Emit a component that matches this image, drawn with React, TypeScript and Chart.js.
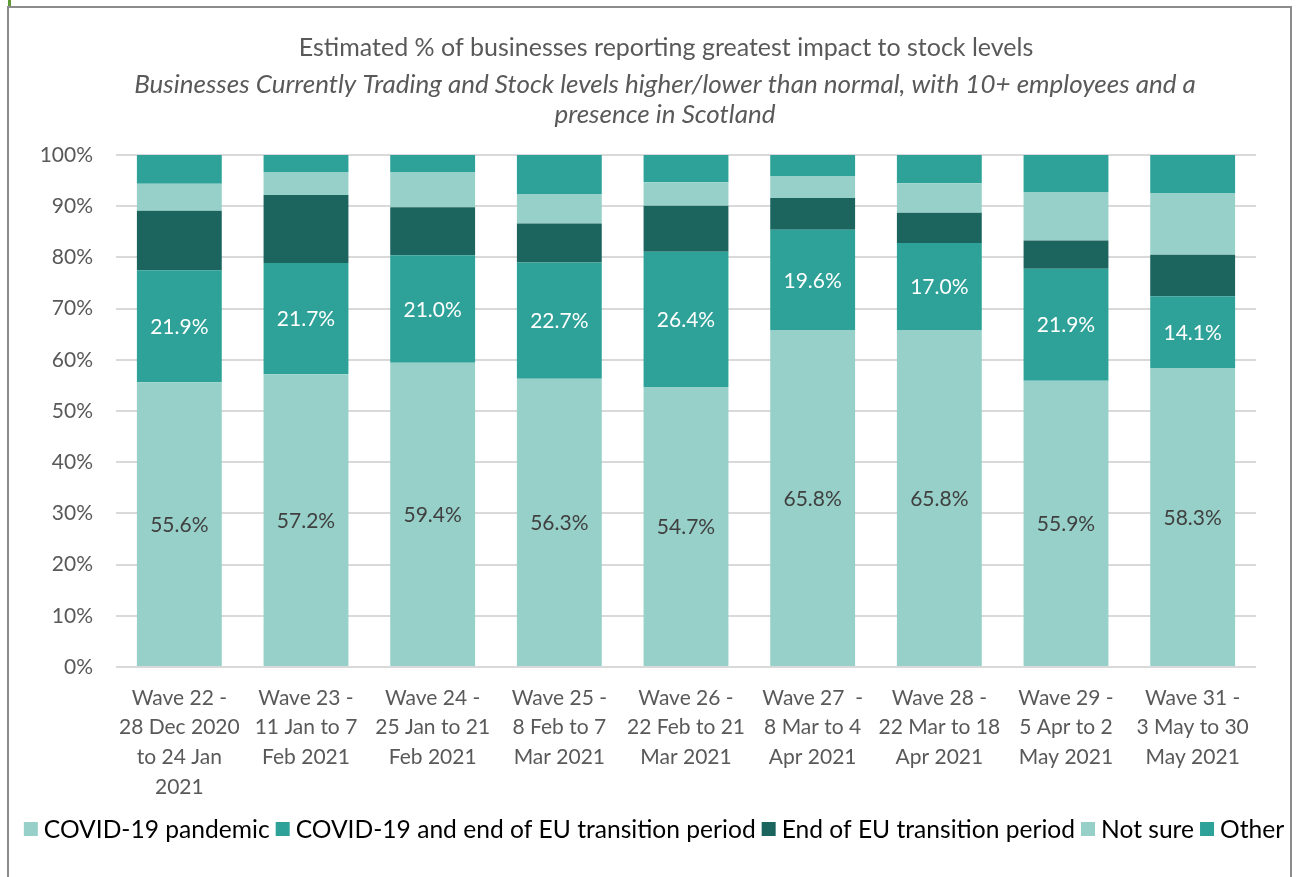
import React, { useEffect, useRef } from "react";
import { Chart, registerables } from "chart.js";
Chart.register(...registerables);

const categories: string[][] = [
  ["Wave 22 -", "28 Dec 2020", "to 24 Jan", "2021"],
  ["Wave 23 -", "11 Jan to 7", "Feb 2021"],
  ["Wave 24 -", "25 Jan to 21", "Feb 2021"],
  ["Wave 25 -", "8 Feb to 7", "Mar 2021"],
  ["Wave 26 -", "22 Feb to 21", "Mar 2021"],
  ["Wave 27  -", "8 Mar to 4", "Apr 2021"],
  ["Wave 28 -", "22 Mar to 18", "Apr 2021"],
  ["Wave 29 -", "5 Apr to 2", "May 2021"],
  ["Wave 31 -", "3 May to 30", "May 2021"],
];
const covidPandemic = [55.6, 57.2, 59.4, 56.3, 54.7, 65.8, 65.8, 55.9, 58.3];
const covidAndEu = [21.9, 21.7, 21.0, 22.7, 26.4, 19.6, 17.0, 21.9, 14.1];
const endOfEu = [11.6, 13.3, 9.4, 7.6, 9.0, 6.2, 5.9, 5.5, 8.1];
const notSure = [5.3, 4.4, 6.8, 5.8, 4.6, 4.3, 5.8, 9.4, 12.1];
const other = [5.6, 3.4, 3.4, 7.6, 5.3, 4.1, 5.5, 7.3, 7.4];

const seriesNames = [
  "COVID-19 pandemic",
  "COVID-19 and end of EU transition period",
  "End of EU transition period",
  "Not sure",
  "Other",
];
const yTicks = [0, 10, 20, 30, 40, 50, 60, 70, 80, 90, 100];
const titleText = "Estimated % of businesses reporting greatest impact to stock levels";
const subtitleLines = [
  "Businesses Currently Trading and Stock levels higher/lower than normal, with 10+ employees and a",
  "presence in Scotland",
];

const LIGHT = "#96D0C9";
const MID = "#2EA198";
const DARK = "#1C655F";
const FONT = "Lato, 'Open Sans', sans-serif";

const titlePlugin = {
  id: "customTitle",
  afterDraw(chart: any) {
    const ctx = chart.ctx;
    ctx.save();
    ctx.fillStyle = "#595959";
    ctx.textAlign = "center";
    ctx.textBaseline = "middle";
    ctx.font = `25px ${FONT}`;
    ctx.fillText(titleText, 666, 48);
    ctx.font = `italic 26px ${FONT}`;
    ctx.fillText(subtitleLines[0], 665, 85);
    ctx.fillText(subtitleLines[1], 665, 115);
    ctx.restore();
  },
};

const dataLabelPlugin = {
  id: "segLabels",
  afterDatasetsDraw(chart: any) {
    const ctx = chart.ctx;
    ctx.save();
    ctx.font = `21px ${FONT}`;
    ctx.textAlign = "center";
    ctx.textBaseline = "middle";
    [0, 1].forEach((di) => {
      const meta = chart.getDatasetMeta(di);
      const ds = chart.data.datasets[di];
      ctx.fillStyle = di === 0 ? "#404040" : "#ffffff";
      meta.data.forEach((el: any, i: number) => {
        const cy = (el.y + el.base) / 2;
        ctx.fillText(Number(ds.data[i]).toFixed(1) + "%", el.x, cy + 1);
      });
    });
    ctx.restore();
  },
};

const legendPlugin = {
  id: "customLegend",
  afterDraw(chart: any) {
    const ctx = chart.ctx;
    ctx.save();
    ctx.font = `24.6px ${FONT}`;
    ctx.textBaseline = "middle";
    ctx.textAlign = "left";
    const box = 14;
    const gap = 6;
    const itemGap = 6;
    const items = chart.data.datasets.map((d: any) => ({
      label: d.label,
      color: d.backgroundColor,
      w: ctx.measureText(d.label).width,
    }));
    const total =
      items.reduce((s: number, it: any) => s + box + gap + it.w, 0) + itemGap * (items.length - 1);
    let x = 654 - total / 2;
    const y = 829;
    items.forEach((it: any) => {
      ctx.fillStyle = it.color;
      ctx.fillRect(x, y - box / 2, box, box);
      x += box + gap;
      ctx.fillStyle = "#000000";
      ctx.fillText(it.label, x, y + 1);
      x += it.w + itemGap;
    });
    ctx.restore();
  },
};

export default function App() {
  const ref = useRef<HTMLCanvasElement | null>(null);
  useEffect(() => {
    if (!ref.current) return;
    const colors = [LIGHT, MID, DARK, LIGHT, MID];
    const values = [covidPandemic, covidAndEu, endOfEu, notSure, other];
    const chart = new Chart(ref.current, {
      type: "bar",
      data: {
        labels: categories,
        datasets: values.map((v, i) => ({
          label: seriesNames[i],
          data: v,
          backgroundColor: colors[i],
          borderWidth: 0,
          categoryPercentage: 1,
          barPercentage: 0.67,
        })),
      },
      options: {
        animation: false,
        responsive: false,
        maintainAspectRatio: false,
        layout: { padding: { top: 155, left: 0, right: 41, bottom: 0 } },
        plugins: {
          legend: { display: false },
          title: { display: false },
          tooltip: { enabled: false },
        },
        scales: {
          x: {
            stacked: true,
            grid: { display: false },
            border: { display: false },
            ticks: {
              color: "#595959",
              font: { family: FONT, size: 21, lineHeight: "29.7px" } as any,
              padding: 8,
              maxRotation: 0,
              autoSkip: false,
            },
            afterFit(scale: any) {
              scale.height = 210;
            },
          },
          y: {
            stacked: true,
            min: 0,
            max: 100,
            afterBuildTicks(scale: any) {
              scale.ticks = yTicks.map((v) => ({ value: v }));
            },
            grid: { color: "#d9d9d9", lineWidth: 2, drawTicks: false },
            border: { display: false },
            ticks: {
              color: "#595959",
              font: { family: FONT, size: 21 },
              padding: 23,
              callback: (v: any) => v + "%",
            },
            afterFit(scale: any) {
              scale.width = 116;
            },
          },
        },
      },
      plugins: [titlePlugin, dataLabelPlugin, legendPlugin],
    });
    return () => chart.destroy();
  }, []);

  return (
    <div style={{ position: "absolute", left: 0, top: 0, width: 1297, height: 877, overflow: "hidden", background: "#fff" }}>
      <div
        style={{
          position: "absolute",
          left: 0,
          top: 0,
          width: 3,
          height: 7,
          background: "#5f9a35",
          marginLeft: 8,
        }}
      />
      <div
        style={{
          position: "absolute",
          left: 7,
          top: 6,
          width: 1281,
          height: 900,
          border: "2px solid #8c8c8c",
          boxSizing: "content-box",
        }}
      />
      <canvas ref={ref} width={1297} height={877} style={{ position: "absolute", left: 0, top: 0 }} />
    </div>
  );
}
